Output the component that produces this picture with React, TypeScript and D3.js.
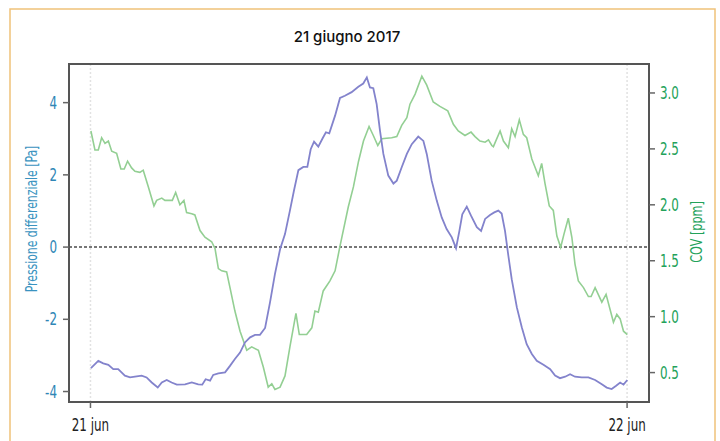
import React from 'react';
import * as d3 from 'd3';

// hours since 21 jun 00:00
const pressureHours = [
  0.02, 0.35, 0.57, 0.8, 1.02, 1.24, 1.54, 1.77, 1.99, 2.29, 2.51, 2.74, 3.01, 3.19, 3.41, 3.63, 3.86,
  4.23, 4.53, 4.82, 5.0, 5.15, 5.35, 5.49, 5.72, 6.02, 6.24, 6.46, 6.69, 6.91, 7.14, 7.36, 7.58, 7.81,
  8.03, 8.25, 8.48, 8.7, 8.92, 9.1, 9.3, 9.52, 9.7, 9.85, 10.0, 10.19, 10.39, 10.53, 10.68, 10.94,
  11.16, 11.38, 11.68, 11.98, 12.2, 12.36, 12.5, 12.65, 12.8, 12.95, 13.1, 13.32, 13.55, 13.7, 13.92,
  14.15, 14.37, 14.66, 14.89, 15.04, 15.26, 15.49, 15.71, 15.93, 16.16, 16.35, 16.5, 16.63, 16.83,
  17.02, 17.28, 17.47, 17.65, 17.87, 18.06, 18.24, 18.39, 18.54, 18.69, 18.84, 19.07, 19.29, 19.51,
  19.74, 19.96, 20.26, 20.56, 20.78, 21.0, 21.23, 21.45, 21.67, 21.97, 22.27, 22.57, 22.87, 23.09,
  23.31, 23.51, 23.69, 23.84, 24.01,
];
const pressureValues = [
  -3.35, -3.15, -3.22, -3.26, -3.38, -3.38, -3.56, -3.61, -3.59, -3.56, -3.61, -3.75, -3.89, -3.75,
  -3.68, -3.75, -3.81, -3.8, -3.75, -3.8, -3.81, -3.66, -3.7, -3.54, -3.5, -3.47, -3.29, -3.1, -2.92,
  -2.64, -2.5, -2.43, -2.43, -2.24, -1.53, -0.75, -0.06, 0.36, 1.01, 1.56, 2.13, 2.22, 2.22, 2.71,
  2.92, 2.78, 3.02, 3.18, 3.15, 3.64, 4.13, 4.19, 4.29, 4.44, 4.53, 4.7, 4.42, 4.4, 3.96, 3.22, 2.58,
  1.98, 1.76, 1.84, 2.21, 2.58, 2.85, 3.06, 2.94, 2.58, 1.84, 1.28, 0.82, 0.5, 0.27, -0.03, 0.45,
  0.91, 1.12, 0.87, 0.55, 0.45, 0.78, 0.89, 0.96, 1.01, 0.93, 0.45, -0.24, -0.89, -1.67, -2.22, -2.69,
  -2.96, -3.15, -3.26, -3.38, -3.56, -3.63, -3.59, -3.52, -3.59, -3.61, -3.61, -3.68, -3.8, -3.89,
  -3.93, -3.84, -3.75, -3.81, -3.68,
];

const covHours = [
  0.02, 0.2, 0.35, 0.5, 0.65, 0.8, 0.95, 1.17, 1.36, 1.51, 1.66, 1.84, 1.99, 2.21, 2.36, 2.59, 2.84,
  2.96, 3.19, 3.33, 3.66, 3.81, 4.0, 4.18, 4.3, 4.53, 4.67, 4.9, 5.12, 5.42, 5.57, 5.72, 5.87, 6.09,
  6.24, 6.46, 6.69, 6.99, 7.21, 7.51, 7.73, 7.95, 8.11, 8.25, 8.48, 8.7, 8.92, 9.19, 9.34, 9.67, 9.9,
  10.04, 10.19, 10.41, 10.71, 10.94, 11.16, 11.53, 11.76, 11.99, 12.21, 12.46, 12.65, 12.85, 13.03,
  13.47, 13.7, 13.92, 14.15, 14.29, 14.52, 14.82, 15.04, 15.33, 15.63, 15.98, 16.23, 16.45, 16.75,
  17.02, 17.2, 17.42, 17.65, 17.8, 17.95, 18.02, 18.32, 18.47, 18.69, 18.84, 18.99, 19.18, 19.36,
  19.51, 19.74, 20.03, 20.18, 20.33, 20.52, 20.7, 20.86, 21.03, 21.18, 21.37, 21.53, 21.67, 21.82,
  22.05, 22.27, 22.39, 22.57, 22.87, 23.06, 23.39, 23.54, 23.69, 23.84, 24.01,
];
const covValues = [
  2.66, 2.49, 2.49, 2.6, 2.55, 2.57, 2.48, 2.46, 2.32, 2.32, 2.39, 2.33, 2.3, 2.29, 2.31, 2.16, 1.99,
  2.04, 2.06, 2.04, 2.04, 2.11, 2.0, 2.04, 1.93, 1.92, 1.91, 1.77, 1.71, 1.67, 1.61, 1.43, 1.41, 1.4,
  1.26, 1.05, 0.87, 0.7, 0.73, 0.7, 0.55, 0.37, 0.4, 0.35, 0.37, 0.47, 0.73, 1.03, 0.84, 0.84, 0.9,
  1.05, 1.04, 1.23, 1.32, 1.41, 1.63, 1.98, 2.16, 2.39, 2.57, 2.7, 2.62, 2.53, 2.59, 2.6, 2.61, 2.71,
  2.78, 2.9, 2.99, 3.15, 3.07, 2.92, 2.88, 2.84, 2.72, 2.66, 2.62, 2.65, 2.61, 2.57, 2.56, 2.58, 2.53,
  2.52, 2.66, 2.57, 2.51, 2.68, 2.61, 2.76, 2.63, 2.6, 2.41, 2.26, 2.37, 2.19, 1.99, 1.95, 1.72, 1.62,
  1.74, 1.88, 1.71, 1.47, 1.32, 1.26, 1.18, 1.18, 1.26, 1.13, 1.2, 0.95, 1.02, 0.98, 0.87, 0.84,
];

const xTicks = [0, 24];
const xTickLabels = ['21 jun', '22 jun'];
const leftTicks = [-4, -2, 0, 2, 4];
const rightTicks = [0.5, 1.0, 1.5, 2.0, 2.5, 3.0];

const W = 720;
const H = 441;
const plot = { left: 69, right: 649, top: 64, bottom: 402 };
const condensed = '"DejaVu Sans Condensed", "Liberation Sans Narrow", sans-serif';

// squeezed text, the original uses a condensed face
const Cond = ({ x, y, rot = 0, anchor = 'start', size, fill, sx = 0.78, dy = '0', children }: any) => (
  <g transform={`translate(${x},${y}) rotate(${rot}) scale(${sx},1)`}>
    <text textAnchor={anchor} dy={dy} fontFamily={condensed} fontSize={size} fill={fill}>{children}</text>
  </g>
);

export default function App() {
  const x = d3.scaleLinear().domain([-0.96, 24.98]).range([plot.left, plot.right]);
  const yL = d3.scaleLinear().domain([-4.29, 5.07]).range([plot.bottom, plot.top]);
  const yR = d3.scaleLinear().domain([0.237, 3.259]).range([plot.bottom, plot.top]);

  const pressureLine = d3.line<number>()
    .x((_, i) => x(pressureHours[i]))
    .y(d => yL(d));
  const covLine = d3.line<number>()
    .x((_, i) => x(covHours[i]))
    .y(d => yR(d));

  return (
    <svg width={W} height={H} style={{ position: 'absolute', left: 0, top: 0, background: '#fff' }}>
      <rect x={10} y={9} width={705} height={460} fill="none" stroke="#efc27a" strokeWidth={1.5} />
      <text x={347} y={42} textAnchor="middle" fontFamily='Inter, "Open Sans", sans-serif' fontWeight={500}
        fontSize={15} fill="#111">21 giugno 2017</text>

      {/* vertical dotted grid at day marks */}
      {xTicks.map(t => (
        <line key={'g' + t} x1={x(t)} x2={x(t)} y1={plot.top} y2={plot.bottom}
          stroke="#e2e2e2" strokeWidth={1.5} strokeDasharray="2,2" />
      ))}
      {/* zero line */}
      <line x1={plot.left} x2={plot.right} y1={yL(0)} y2={yL(0)} stroke="#777" strokeWidth={2} strokeDasharray="3,2" />

      <path d={covLine(covValues) || ''} fill="none" stroke="#93cf93" strokeWidth={1.6} />
      <path d={pressureLine(pressureValues) || ''} fill="none" stroke="#8383cc" strokeWidth={1.8} />

      <rect x={plot.left} y={plot.top} width={plot.right - plot.left} height={plot.bottom - plot.top}
        fill="none" stroke="#555" strokeWidth={2} />

      {/* left axis */}
      {leftTicks.map(t => (
        <g key={'l' + t}>
          <line x1={plot.left - 6} x2={plot.left} y1={yL(t)} y2={yL(t)} stroke="#666" strokeWidth={1.5} />
          <Cond x={57} y={yL(t)} dy="0.36em" anchor="end" size={17} fill="#2f86b6">{t}</Cond>
        </g>
      ))}
      <Cond x={37} y={219} rot={-90} anchor="middle" size={15.5} fill="#3a93c0">Pressione differenziale [Pa]</Cond>

      {/* right axis */}
      {rightTicks.map(t => (
        <g key={'r' + t}>
          <line x1={plot.right} x2={plot.right + 6} y1={yR(t)} y2={yR(t)} stroke="#666" strokeWidth={1.5} />
          <Cond x={660} y={yR(t)} dy="0.36em" size={17} fill="#23a25a">{t.toFixed(1)}</Cond>
        </g>
      ))}
      <Cond x={702} y={232} rot={-90} anchor="middle" size={16} fill="#23a25a">COV [ppm]</Cond>

      {/* bottom axis */}
      {xTicks.map((t, i) => (
        <g key={'x' + t}>
          <line x1={x(t)} x2={x(t)} y1={plot.bottom} y2={plot.bottom + 6} stroke="#666" strokeWidth={1.5} />
          <Cond x={x(t)} y={431} anchor="middle" size={17} fill="#222">{xTickLabels[i]}</Cond>
        </g>
      ))}
    </svg>
  );
}
